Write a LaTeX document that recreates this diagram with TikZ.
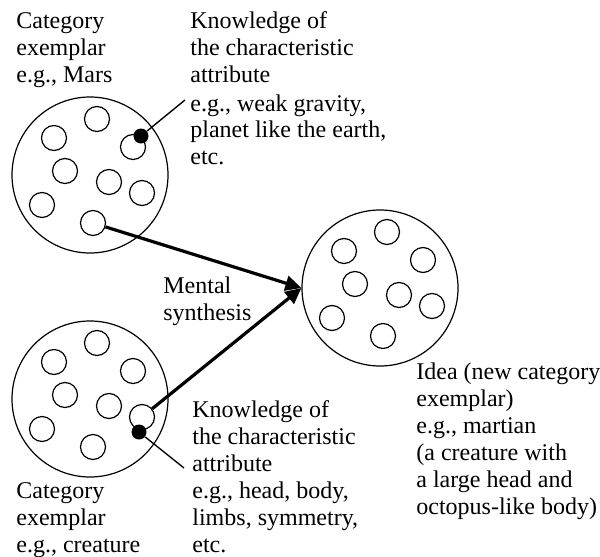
\documentclass[tikz,border=0pt]{standalone}
\usepackage{fontspec}
\setmainfont{Liberation Serif}
\usetikzlibrary{arrows.meta}
\newcommand\txtlines[1]{\begin{tabular}[t]{@{}l@{}}#1\end{tabular}}
\begin{document}
\begin{tikzpicture}[x=0.5pt,y=-0.5pt,
  big/.style={circle,draw,line width=0.6pt,minimum size=78pt,inner sep=0pt},
  small/.style={circle,draw,line width=0.6pt,minimum size=12.5pt,inner sep=0pt},
  blackdot/.style={circle,fill=black,minimum size=7.5pt,inner sep=0pt},
  thinline/.style={line width=0.7pt},
  synth/.style={line width=1.6pt,-{Triangle[length=8pt,width=7.5pt]}},
  lbl/.style={anchor=base west,inner sep=0pt,font=\fontsize{12}{13.5}\selectfont}]
\useasboundingbox (0,0) rectangle (600,557);
\foreach \n/\cx/\cy in {T/90/175,B/90/399,R/380/288}{
  \node[big] (\n) at (\cx,\cy) {};
  \foreach \i/\dx/\dy in {1/7/-56,2/-36/-37,3/43/-28,4/-25/-4,5/19/7,6/52/18,7/-48/30,8/3/48}
    \node[small] (\n\i) at (\cx+\dx,\cy+\dy) {};
}
% arrows
\draw[synth] (T8) -- (R.west);
\draw[synth] (B6) -- (R.west);
% attribute markers
\node[blackdot] (td) at (141,136) {};
\node[blackdot] (bd) at (139,432) {};
\coordinate (ta) at (185,100);
\coordinate (ba) at (184,468);
\draw[thinline] (td) -- (ta);
\draw[thinline] (bd) -- (ba);
% labels
\node[lbl] (tl) at (16,28) {\txtlines{Category\\exemplar\\e.g., Mars}};
\node[lbl] (tr) at (190,28) {\txtlines{Knowledge of\\the characteristic\\attribute\\[1pt]e.g., weak gravity,\\planet like the earth,\\etc.}};
\node[lbl] (ms) at (163,293) {\txtlines{Mental\\synthesis}};
\node[lbl] (idea) at (416,379) {\txtlines{Idea (new category\\exemplar)\\e.g., martian\\(a creature with\\a large head and\\octopus-like body)}};
\node[lbl] (br) at (192,417) {\txtlines{Knowledge of\\the characteristic\\attribute\\e.g., head, body,\\limbs, symmetry,\\etc.}};
\node[lbl] (bl) at (16,498) {\txtlines{Category\\exemplar\\e.g., creature}};
\end{tikzpicture}
\end{document}
